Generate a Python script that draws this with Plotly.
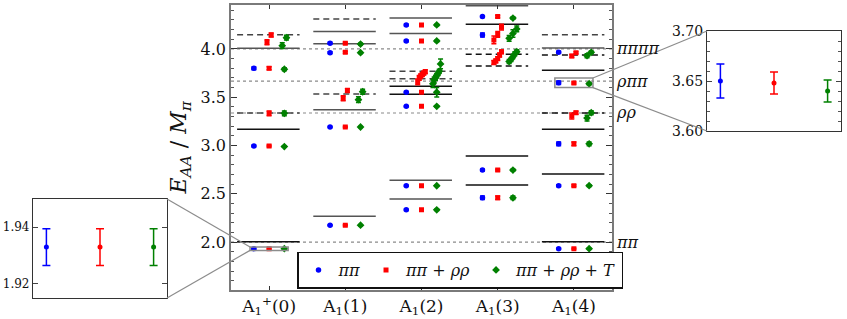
import plotly.graph_objects as go

W, H = 847, 319

# ---------------- data ----------------
irreps = ["A<sub>1</sub><sup>+</sup>(0)", "A<sub>1</sub>(1)", "A<sub>1</sub>(2)",
          "A<sub>1</sub>(3)", "A<sub>1</sub>(4)"]

# pi pi operator basis
pp_grp = [0, 0, 0, 1, 1, 1, 1, 2, 2, 2, 2, 2, 2, 3, 3, 3, 3, 4, 4, 4, 4, 4]
pp_val = [1.933, 2.995, 3.800, 2.176, 3.192, 3.962, 4.060,
          2.335, 2.584, 3.406, 3.552, 4.083, 4.249,
          2.459, 2.746, 4.145, 4.335,
          1.933, 2.585, 3.018, 3.650, 3.966]
pp_err = [0.0065, 0.008, 0.014, 0.005, 0.006, 0.010, 0.010,
          0.006, 0.006, 0.006, 0.008, 0.008, 0.008,
          0.018, 0.010, 0.020, 0.010,
          0.004, 0.010, 0.020, 0.017, 0.010]

# pi pi + rho rho
pr_grp = [0, 0, 0, 0, 0, 0,
          1, 1, 1, 1, 1, 1,
          2, 2, 2, 2, 2, 2, 2, 2, 2, 2, 2, 2,
          3, 3, 3, 3, 3, 3, 3, 3, 3, 3, 3,
          4, 4, 4, 4, 4, 4, 4, 4]
pr_val = [1.933, 2.995, 3.334, 3.800, 4.069, 4.145,
          2.176, 3.192, 3.490, 3.570, 3.965, 4.060,
          2.335, 2.584, 3.406, 3.552, 3.660, 3.700, 3.720, 3.735, 3.750, 3.765, 4.083, 4.249,
          2.459, 2.746, 3.860, 3.876, 3.900, 3.938, 3.970, 4.093, 4.150, 4.225, 4.335,
          1.933, 2.585, 3.018, 3.306, 3.340, 3.648, 3.927, 3.960]
pr_err = [0.0065, 0.008, 0.025, 0.015, 0.025, 0.020,
          0.005, 0.006, 0.025, 0.020, 0.010, 0.010,
          0.006, 0.006, 0.006, 0.008, 0.030, 0.025, 0.020, 0.020, 0.020, 0.020, 0.008, 0.008,
          0.018, 0.010, 0.020, 0.020, 0.020, 0.020, 0.020, 0.040, 0.030, 0.030, 0.012,
          0.004, 0.010, 0.020, 0.030, 0.015, 0.011, 0.015, 0.010]

# pi pi + rho rho + T
pt_grp = [0, 0, 0, 0, 0, 0,
          1, 1, 1, 1, 1, 1,
          2, 2, 2, 2, 2, 2, 2, 2, 2, 2, 2, 2, 2,
          3, 3, 3, 3, 3, 3, 3, 3, 3, 3, 3,
          4, 4, 4, 4, 4, 4, 4, 4]
pt_val = [1.933, 2.990, 3.334, 3.790, 4.034, 4.117,
          2.176, 3.192, 3.475, 3.557, 3.962, 4.050,
          2.335, 2.584, 3.406, 3.552, 3.640, 3.680, 3.700, 3.725, 3.745, 3.770, 3.845, 4.083, 4.249,
          2.459, 2.746, 3.870, 3.890, 3.920, 3.950, 3.972, 4.110, 4.160, 4.207, 4.320,
          1.933, 2.585, 3.018, 3.285, 3.340, 3.640, 3.930, 3.965]
pt_err = [0.0065, 0.008, 0.025, 0.015, 0.030, 0.025,
          0.005, 0.006, 0.030, 0.025, 0.010, 0.010,
          0.006, 0.006, 0.006, 0.050, 0.040, 0.030, 0.025, 0.020, 0.020, 0.020, 0.050, 0.008, 0.008,
          0.018, 0.010, 0.020, 0.020, 0.020, 0.020, 0.020, 0.030, 0.040, 0.030, 0.012,
          0.004, 0.010, 0.020, 0.030, 0.020, 0.011, 0.020, 0.015]

# non-interacting levels: kind "S" solid black, "G" solid grey, "D" dashed black, "E" dashed grey
lv_grp = [0, 0, 0, 0, 0,
          1, 1, 1, 1, 1, 1,
          2, 2, 2, 2, 2, 2, 2, 2,
          3, 3, 3, 3, 3, 3,
          4, 4, 4, 4, 4, 4, 4, 4]
lv_val = [2.005, 3.168, 3.337, 4.007, 4.148,
          2.269, 3.371, 3.534, 4.055, 4.180, 4.311,
          2.446, 2.642, 3.530, 3.613, 3.692, 3.769, 4.159, 4.321,
          2.591, 2.891, 3.824, 3.945, 4.256, 4.446,
          2.003, 2.705, 3.168, 3.337, 3.779, 3.938, 4.010, 4.148]
lv_kind = ["S", "S", "E", "G", "E",
           "G", "G", "E", "G", "G", "E",
           "G", "G", "S", "S", "E", "E", "G", "G",
           "S", "S", "D", "D", "S", "G",
           "S", "S", "S", "D", "S", "D", "G", "E"]

# thresholds
thr_val = [2.0, 3.337, 3.668, 4.0]
thr_lab = ["<i>ππ</i>", "<i>ρρ</i>", "<i>ρππ</i>", "<i>ππππ</i>"]

series_names = ["<i>ππ</i>", "<i>ππ</i> + <i>ρρ</i>", "<i>ππ</i> + <i>ρρ</i> + <i>T</i>"]

# ---------------- layout helpers ----------------
FONT = "DejaVu Serif"


def fx(p):
    return p / W


def fy(p):
    return 1 - p / H


main_dx = [fx(231), fx(612)]
main_dy = [fy(289.5), fy(5)]
main_xr = [-0.5, 4.5]
main_yr = [1.51, 4.455]
li_dx = [fx(33), fx(167)]
li_dy = [fy(298), fy(199)]
li_xr = [-0.25, 0.25]
li_yr = [1.915, 1.95]
ri_dx = [fx(707), fx(841)]
ri_dy = [fy(131), fy(31)]
ri_xr = [3.75, 4.25]
ri_yr = [3.60, 3.70]


def to_paper(x, y):
    px = main_dx[0] + (x - main_xr[0]) / (main_xr[1] - main_xr[0]) * (main_dx[1] - main_dx[0])
    py = main_dy[0] + (y - main_yr[0]) / (main_yr[1] - main_yr[0]) * (main_dy[1] - main_dy[0])
    return px, py


def positions(grp, val, base):
    xs = [0.0] * len(val)
    for g in set(grp):
        idx = sorted([i for i in range(len(val)) if grp[i] == g], key=lambda i: val[i])
        clusters, cur = [], [idx[0]]
        for i in idx[1:]:
            if val[i] - val[cur[-1]] < 0.085:
                cur.append(i)
            else:
                clusters.append(cur)
                cur = [i]
        clusters.append(cur)
        for c in clusters:
            n = len(c)
            step = min(0.055, 0.10 / (n - 1)) if n > 1 else 0
            for k, i in enumerate(c):
                xs[i] = g + base + (k - (n - 1) / 2) * step
    return xs


series = [
    (pp_grp, pp_val, pp_err, -0.2, "#0000ff", "circle", 5.5),
    (pr_grp, pr_val, pr_err, 0.0, "#ff0000", "square", 5),
    (pt_grp, pt_val, pt_err, 0.2, "#008000", "diamond", 6),
]

fig = go.Figure()
for k, (g, v, e, off, col, sym, sz) in enumerate(series):
    xs = positions(g, v, off)
    fig.add_trace(go.Scatter(
        x=xs, y=v, mode="markers", name=series_names[k],
        marker=dict(color=col, symbol=sym, size=sz),
        error_y=dict(type="data", array=e, color=col, thickness=1.5, width=2.5),
        xaxis="x", yaxis="y", showlegend=True))
for ax in (("x2", "y2"), ("x3", "y3")):
    for k, (g, v, e, off, col, sym, sz) in enumerate(series):
        xs = positions(g, v, off)
        fig.add_trace(go.Scatter(
            x=xs, y=v, mode="markers",
            marker=dict(color=col, symbol="circle", size=5),
            error_y=dict(type="data", array=e, color=col, thickness=1.5, width=4),
            xaxis=ax[0], yaxis=ax[1], showlegend=False, hoverinfo="skip"))

shapes = []
for t in thr_val:
    shapes.append(dict(type="line", xref="x", yref="y", x0=main_xr[0], x1=main_xr[1],
                       y0=t, y1=t, layer="below",
                       line=dict(color="#8a8a8a", width=1.2, dash="dot")))
kind_style = {"S": ("#111111", "solid"), "G": ("#555555", "solid"),
              "D": ("#111111", "6px,4px"), "E": ("#444444", "6px,4px")}
for g, v, kd in zip(lv_grp, lv_val, lv_kind):
    c, d = kind_style[kd]
    shapes.append(dict(type="line", xref="x", yref="y", x0=g - 0.42, x1=g + 0.40,
                       y0=v, y1=v, layer="below", line=dict(color=c, width=1.5, dash=d)))

# zoom boxes and connectors
for xr, yr in ((li_xr, li_yr), (ri_xr, ri_yr)):
    shapes.append(dict(type="rect", xref="x", yref="y", x0=xr[0], x1=xr[1], y0=yr[0], y1=yr[1],
                       line=dict(color="#8c8c8c", width=1.5)))
a = to_paper(li_xr[0], li_yr[1])
b = to_paper(li_xr[0], li_yr[0])
shapes.append(dict(type="line", xref="paper", yref="paper", x0=li_dx[1], y0=li_dy[1], x1=a[0], y1=a[1],
                   line=dict(color="#8c8c8c", width=1.2)))
shapes.append(dict(type="line", xref="paper", yref="paper", x0=li_dx[1], y0=li_dy[0], x1=b[0], y1=b[1],
                   line=dict(color="#8c8c8c", width=1.2)))
a = to_paper(ri_xr[1], ri_yr[1])
b = to_paper(ri_xr[1], ri_yr[0])
shapes.append(dict(type="line", xref="paper", yref="paper", x0=ri_dx[0], y0=ri_dy[1], x1=a[0], y1=a[1],
                   line=dict(color="#8c8c8c", width=1.2)))
shapes.append(dict(type="line", xref="paper", yref="paper", x0=ri_dx[0], y0=ri_dy[0], x1=b[0], y1=b[1],
                   line=dict(color="#8c8c8c", width=1.2)))

annotations = []
for t, lab in zip(thr_val, thr_lab):
    annotations.append(dict(xref="paper", yref="y", x=fx(614), y=t, text=lab, showarrow=False,
                            xanchor="left", yanchor="middle", font=dict(family=FONT, size=16, color="#111")))

axcol = "#7a7a7a"
fig.update_layout(
    width=W, height=H, margin=dict(l=0, r=0, t=0, b=0, autoexpand=False),
    paper_bgcolor="white", plot_bgcolor="white",
    font=dict(family=FONT, color="#111"),
    shapes=shapes, annotations=annotations,
    legend=dict(orientation="h", x=fx(297), y=fy(251.5), xanchor="left", yanchor="top",
                bordercolor="#111", borderwidth=1.5, bgcolor="white",
                font=dict(family=FONT, size=16), itemwidth=30, tracegroupgap=0),
    xaxis=dict(domain=main_dx, range=main_xr, tickvals=[0, 1, 2, 3, 4], ticktext=irreps,
               ticks="inside", ticklen=4, mirror="allticks", showline=True, linecolor=axcol,
               linewidth=1.5, tickcolor="#333", showgrid=False, zeroline=False, automargin=False,
               tickfont=dict(family=FONT, size=17)),
    yaxis=dict(domain=main_dy, range=main_yr, dtick=0.5, tick0=0, tickformat=".1f",
               ticks="inside", ticklen=6, mirror="allticks", showline=True, linecolor=axcol,
               linewidth=1.5, tickcolor="#333", showgrid=False, zeroline=False, automargin=False,
               minor=dict(dtick=0.1, ticks="inside", ticklen=3, tickcolor="#555"),
               tickfont=dict(family=FONT, size=16),
               title=dict(text="<i>E</i><sub><i>AA</i></sub> / <i>M</i><sub><i>π</i></sub>",
                          font=dict(family=FONT, size=22), standoff=8)),
    xaxis2=dict(domain=li_dx, range=li_xr, showticklabels=False, ticks="", showline=True,
                mirror=True, linecolor="#333", linewidth=1.2, showgrid=False, zeroline=False,
                anchor="y2", automargin=False),
    yaxis2=dict(domain=li_dy, range=li_yr, tickvals=[1.92, 1.94], tickformat=".2f",
                ticks="inside", ticklen=5, mirror="allticks", showline=True, linecolor="#333",
                linewidth=1.2, showgrid=False, zeroline=False, anchor="x2", automargin=False,
                tickfont=dict(family=FONT, size=12)),
    xaxis3=dict(domain=ri_dx, range=ri_xr, showticklabels=False, ticks="", showline=True,
                mirror=True, linecolor="#333", linewidth=1.2, showgrid=False, zeroline=False,
                anchor="y3", automargin=False),
    yaxis3=dict(domain=ri_dy, range=ri_yr, tickvals=[3.60, 3.65, 3.70], tickformat=".2f",
                ticks="inside", ticklen=5, mirror="allticks", showline=True, linecolor="#333",
                linewidth=1.2, showgrid=False, zeroline=False, anchor="x3", automargin=False,
                minor=dict(tickvals=[3.61, 3.62, 3.63, 3.64, 3.66, 3.67, 3.68, 3.69],
                           ticks="inside", ticklen=3, tickcolor="#555"),
                tickfont=dict(family=FONT, size=14)),
)

fig.write_html("out.html", config={"displayModeBar": False},
               post_script="document.body.style.margin='0px';")
